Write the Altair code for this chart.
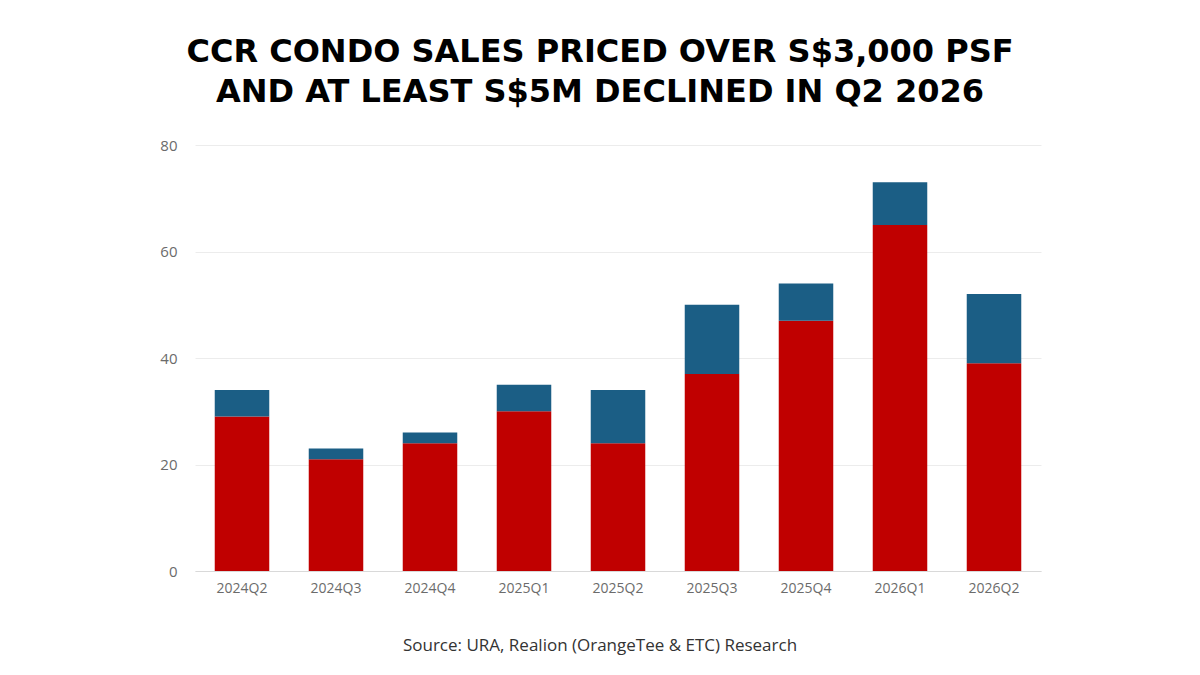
import altair as alt
import pandas as pd

quarters = ["2024Q2", "2024Q3", "2024Q4", "2025Q1", "2025Q2",
            "2025Q3", "2025Q4", "2026Q1", "2026Q2"]
base_units = [29, 21, 24, 30, 24, 37, 47, 65, 39]
top_units = [5, 2, 2, 5, 10, 13, 7, 8, 13]
y_ticks = [0, 20, 40, 60, 80]

title_lines = ["CCR CONDO SALES PRICED OVER S$3,000 PSF",
               "AND AT LEAST S$5M DECLINED IN Q2 2026"]
source_text = "Source: URA, Realion (OrangeTee & ETC) Research"

RED = "#C00000"
BLUE = "#1B5E85"

rows = []
for q, a, b in zip(quarters, base_units, top_units):
    rows.append({"quarter": q, "segment": "base", "units": a, "order": 0})
    rows.append({"quarter": q, "segment": "top", "units": b, "order": 1})
df = pd.DataFrame(rows)

W, H = 846, 426

bars = alt.Chart(df).mark_bar().encode(
    x=alt.X("quarter:N", sort=quarters,
            scale=alt.Scale(paddingInner=0.42, paddingOuter=0.21),
            axis=alt.Axis(title=None, labelAngle=0, ticks=False,
                          domainColor="#d9d9d9", labelColor="#6b6b6b",
                          labelFont="Open Sans", labelFontSize=14,
                          labelPadding=10, grid=False)),
    y=alt.Y("units:Q", stack="zero",
            scale=alt.Scale(domain=[0, 80], nice=False),
            axis=alt.Axis(title=None, values=y_ticks, ticks=False, domain=False,
                          gridColor="#ececec", labelColor="#6b6b6b",
                          labelFont="Open Sans", labelFontSize=15,
                          labelPadding=18)),
    color=alt.Color("segment:N", scale=alt.Scale(domain=["base", "top"], range=[RED, BLUE]),
                    legend=None),
    order=alt.Order("order:Q"),
)


def text_line(txt, y, font, size, weight, color):
    return alt.Chart(pd.DataFrame({"t": [txt]})).mark_text(
        font=font, fontSize=size, fontWeight=weight, color=color,
        align="center", baseline="alphabetic",
    ).encode(x=alt.value(405), y=alt.value(y), text="t:N")


title1 = text_line(title_lines[0], -83, "DejaVu Sans", 32, "bold", "#000000")
title2 = text_line(title_lines[1], -43, "DejaVu Sans", 32, "bold", "#000000")
source = text_line(source_text, H + 80, "Open Sans", 17, "normal", "#333333")

chart = alt.layer(bars, title1, title2, source).properties(
    width=W, height=H,
    padding={"left": 195, "top": 145, "right": 159, "bottom": 104},
    autosize=alt.AutoSizeParams(type="none"),
    background="#ffffff",
).configure_view(stroke=None)

chart.save("out.html", embed_options={"renderer": "svg", "actions": False})
